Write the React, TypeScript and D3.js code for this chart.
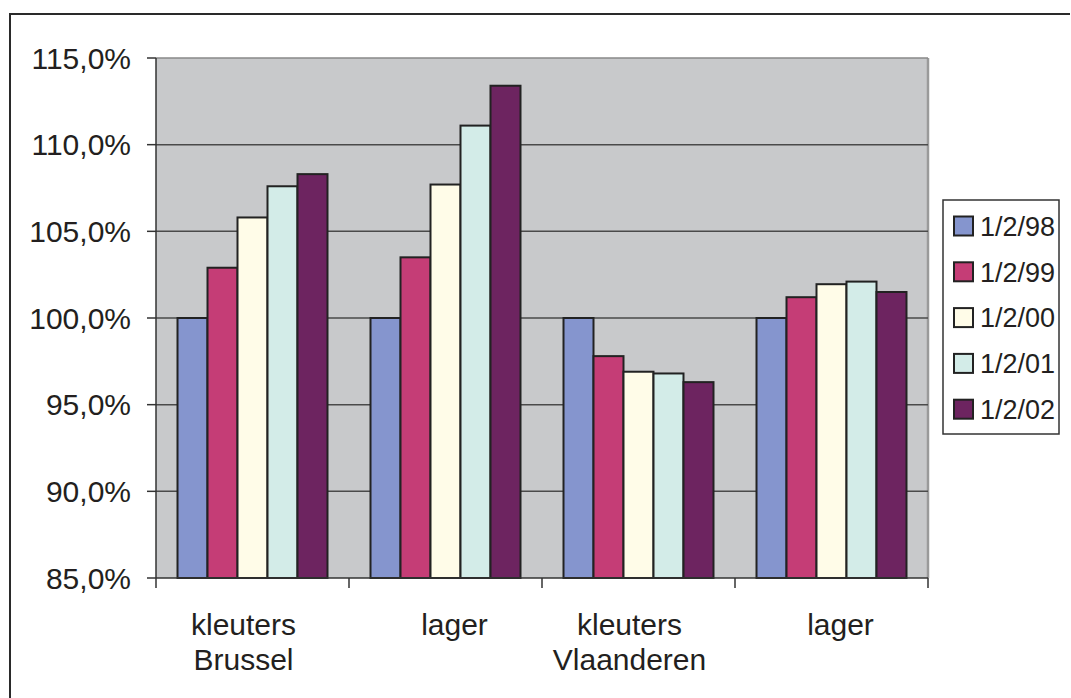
import React from "react";
import * as d3 from "d3";

const categories = [["kleuters", "Brussel"], ["lager"], ["kleuters", "Vlaanderen"], ["lager"]];
const seriesNames = ["1/2/98", "1/2/99", "1/2/00", "1/2/01", "1/2/02"];
const seriesColors = ["#8595ce", "#c53d76", "#fffce8", "#d3ece8", "#6d2460"];
const s98 = [100.0, 100.0, 100.0, 100.0];
const s99 = [102.9, 103.5, 97.8, 101.2];
const s00 = [105.8, 107.7, 96.9, 101.95];
const s01 = [107.6, 111.1, 96.8, 102.1];
const s02 = [108.3, 113.4, 96.3, 101.5];
const seriesValues = [s98, s99, s00, s01, s02];
const yTicks = [85, 90, 95, 100, 105, 110, 115];

const W = 1071;
const H = 698;
const plot = { left: 156, right: 928, top: 58, bottom: 578 };
const FONT = "'Liberation Sans', Arial, Helvetica, sans-serif";
// horizontal nudge of the category labels as placed in the original
const labelShift = [-9, 9, -9, 9];

export default function App() {
  const x0 = d3
    .scaleBand<number>()
    .domain(categories.map((_, i) => i))
    .range([plot.left, plot.right])
    .padding(0);
  const x1 = d3
    .scaleBand<number>()
    .domain(seriesNames.map((_, i) => i))
    .range([0, x0.bandwidth()])
    .paddingInner(0)
    .paddingOuter(0.717);
  const y = d3.scaleLinear().domain([85, 115]).range([plot.bottom, plot.top]);
  const fmt = (v: number) => v.toFixed(1).replace(".", ",") + "%";

  const legend = { x: 943, y: 200, w: 116, h: 234 };
  const rowH = 45.8;

  return (
    <svg
      width={W}
      height={H}
      style={{ position: "absolute", left: 0, top: 0, background: "#fff" }}
      fontFamily={FONT}
    >
      {/* outer frame (top and left visible) */}
      <path d={`M10,${H + 5} L10,14 L${W - 1},14`} fill="none" stroke="#2a2a2a" strokeWidth={2} />

      {/* plot background */}
      <rect
        x={plot.left}
        y={plot.top}
        width={plot.right - plot.left}
        height={plot.bottom - plot.top}
        fill="#c8c9cb"
      />
      <line x1={plot.right} x2={plot.right} y1={plot.top} y2={plot.bottom} stroke="#9a9a9a" strokeWidth={2.5} />
      <line x1={plot.left} x2={plot.right} y1={plot.top} y2={plot.top} stroke="#888" strokeWidth={1.5} />

      {/* gridlines */}
      {yTicks.slice(1, -1).map((t) => (
        <line key={t} x1={plot.left} x2={plot.right} y1={y(t)} y2={y(t)} stroke="#4a4a4a" strokeWidth={1.5} />
      ))}

      {/* bars */}
      {categories.map((_, ci) => (
        <g key={ci}>
          {seriesValues.map((vals, si) => {
            const v = vals[ci];
            const bx = (x0(ci) as number) + (x1(si) as number);
            return (
              <rect
                key={si}
                x={bx}
                y={y(v)}
                width={x1.bandwidth()}
                height={y(85) - y(v)}
                fill={seriesColors[si]}
                stroke="#222"
                strokeWidth={2}
              />
            );
          })}
        </g>
      ))}

      {/* y axis */}
      <line x1={plot.left} x2={plot.left} y1={plot.top} y2={plot.bottom} stroke="#333" strokeWidth={1.5} />
      {yTicks.map((t) => (
        <g key={t}>
          <line x1={147} x2={plot.left} y1={y(t)} y2={y(t)} stroke="#333" strokeWidth={1.5} />
          <text x={131} y={y(t)} dy="0.36em" textAnchor="end" fontSize={30} fill="#231f20">
            {fmt(t)}
          </text>
        </g>
      ))}

      {/* x axis */}
      <line x1={plot.left} x2={plot.right} y1={plot.bottom} y2={plot.bottom} stroke="#333" strokeWidth={1.5} />
      {categories.map((_, ci) => (
        <line
          key={ci}
          x1={x0(ci) as number}
          x2={x0(ci) as number}
          y1={plot.bottom}
          y2={plot.bottom + 10}
          stroke="#333"
          strokeWidth={1.5}
        />
      ))}
      <line x1={plot.right} x2={plot.right} y1={plot.bottom} y2={plot.bottom + 10} stroke="#333" strokeWidth={1.5} />
      {categories.map((lines, ci) => {
        const cx = (x0(ci) as number) + x0.bandwidth() / 2 + labelShift[ci];
        return (
          <text key={ci} x={cx} y={635} textAnchor="middle" fontSize={30} fill="#231f20">
            {lines.map((l, li) => (
              <tspan key={li} x={cx} dy={li === 0 ? 0 : 35}>
                {l}
              </tspan>
            ))}
          </text>
        );
      })}

      {/* legend */}
      <rect x={legend.x} y={legend.y} width={legend.w} height={legend.h} fill="#fff" stroke="#333" strokeWidth={1.5} />
      {seriesNames.map((n, i) => {
        const cy = legend.y + 26 + i * rowH;
        return (
          <g key={n}>
            <rect x={954} y={cy - 9.5} width={19} height={19} fill={seriesColors[i]} stroke="#222" strokeWidth={2} />
            <text x={980} y={cy} dy="0.36em" fontSize={27} fill="#231f20">
              {n}
            </text>
          </g>
        );
      })}
    </svg>
  );
}
